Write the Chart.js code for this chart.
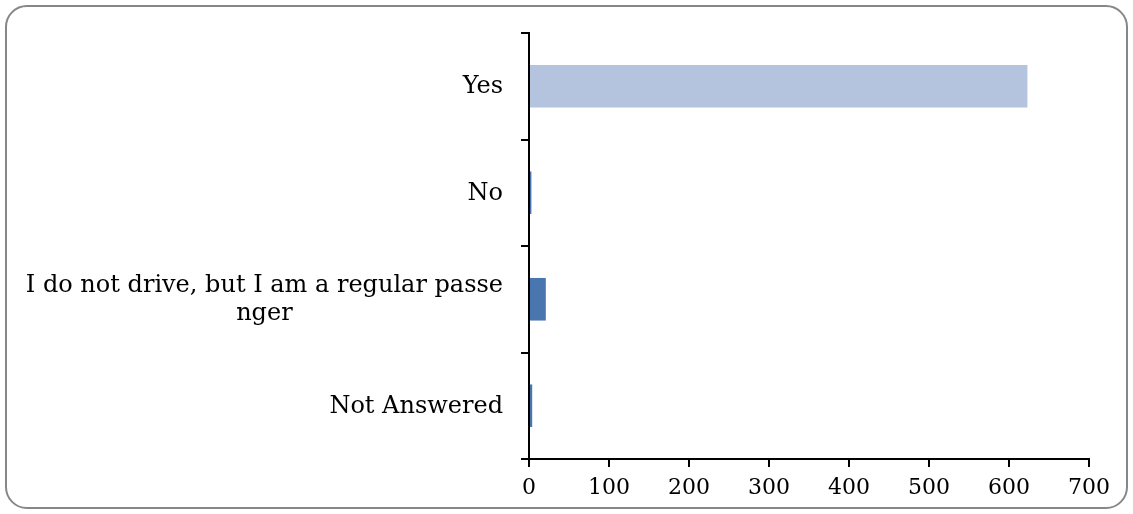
<!DOCTYPE html>
<html>
<head>
<meta charset="utf-8">
<script src="https://cdn.jsdelivr.net/npm/chart.js@4"></script>
<style>
  body { margin: 0; background: #fff; }
  #wrap { position: relative; width: 1133px; height: 514px; }
  #frame { position: absolute; left: 5px; top: 5px; width: 1123px; height: 504px; box-sizing: border-box;
           border: 2px solid #878787; border-radius: 22px; pointer-events: none; }
  canvas { position: absolute; left: 0; top: 0; }
</style>
</head>
<body>
<div id="wrap">
  <canvas id="chart" width="1133" height="514"></canvas>
  <div id="frame"></div>
</div>
<script>
const categories = [
    ['Yes'],
    ['No'],
    ['I do not drive, but I am a regular passe', 'nger'],
    ['Not Answered']
];
const values = [623, 3, 21, 4];
const barColors = ['#b4c3de', '#4a76b0', '#4a76b0', '#4a76b0'];
const xTicks = [0, 100, 200, 300, 400, 500, 600, 700];

const FONT = '"DejaVu Serif", serif';

// Excel-style category labels: block right-aligned, lines centred inside the block
const labelPlugin = {
    id: 'catLabels',
    afterDraw(chart) {
        const ctx = chart.ctx;
        const y = chart.scales.y;
        ctx.save();
        ctx.font = '24px ' + FONT;
        ctx.fillStyle = '#000';
        ctx.textAlign = 'center';
        ctx.textBaseline = 'middle';
        const right = chart.chartArea.left - 26;
        const lineH = 28;
        categories.forEach((lines, i) => {
            const w = Math.max(...lines.map(l => ctx.measureText(l).width));
            const cx = right - w / 2;
            const cy = y.getPixelForValue(i) + 1;
            const top = cy - (lines.length - 1) * lineH / 2;
            lines.forEach((l, k) => ctx.fillText(l, cx, top + k * lineH));
        });
        ctx.restore();
    }
};

new Chart(document.getElementById('chart'), {
    type: 'bar',
    data: {
        labels: categories.map(c => c.join('')),
        datasets: [{
            data: values,
            backgroundColor: barColors,
            borderWidth: 0,
            categoryPercentage: 1,
            barPercentage: 0.4
        }]
    },
    options: {
        indexAxis: 'y',
        responsive: false,
        animation: false,
        layout: { padding: { left: 519, right: 44, top: 33, bottom: 10 } },
        plugins: { legend: { display: false }, tooltip: { enabled: false } },
        scales: {
            x: {
                min: 0,
                max: 700,
                afterBuildTicks: s => { s.ticks = xTicks.map(v => ({ value: v })); },
                afterFit: s => { s.height = 45; },
                grid: { drawOnChartArea: false, drawTicks: true, tickLength: 8, color: '#000', lineWidth: 2 },
                border: { display: true, color: '#000', width: 2 },
                ticks: { color: '#000', font: { family: FONT, size: 22 }, padding: 8, maxRotation: 0 }
            },
            y: {
                afterFit: s => { s.width = 10; },
                grid: { offset: true, drawOnChartArea: false, drawTicks: true, tickLength: 8, color: '#000', lineWidth: 2 },
                border: { display: true, color: '#000', width: 2 },
                ticks: { display: false }
            }
        }
    },
    plugins: [labelPlugin]
});
</script>
</body>
</html>
